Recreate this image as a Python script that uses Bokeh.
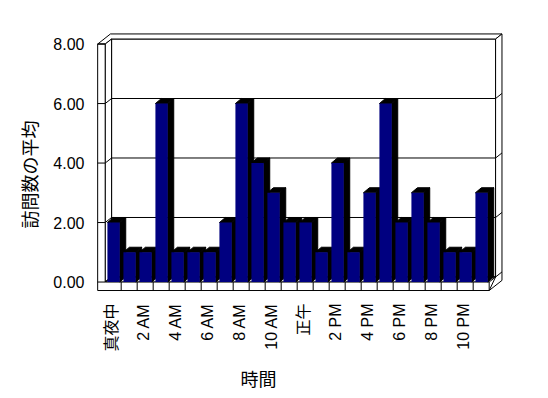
import math
from bokeh.plotting import figure
from bokeh.models import (ColumnDataSource, FixedTicker, NumeralTickFormatter,
                          Range1d, Title)
from bokeh.embed import file_html
from bokeh.resources import INLINE

# ---------------- data ----------------
hours = list(range(24))
visits = [2, 1, 1, 6, 1, 1, 1, 2, 6, 4, 3, 2, 2, 1, 4, 1, 3, 6, 2, 3, 2, 1, 1, 3]
tick_hours = [0, 2, 4, 6, 8, 10, 12, 14, 16, 18, 20, 22]
tick_labels = ["真夜中", "2 AM", "4 AM", "6 AM", "8 AM", "10 AM",
               "正午", "2 PM", "4 PM", "6 PM", "8 PM", "10 PM"]
y_ticks = [0, 2, 4, 6, 8]
y_max = 8
y_title = "訪問数の平均"
x_title = "時間"

# ---------------- style / geometry ----------------
FONT = "'Liberation Sans', 'Noto Sans CJK JP'"
TFONT = "Noto Sans CJK JP"
NAVY = "#000080"
L = -0.42          # left edge of category 0 relative to its tick
DX, DY = 0.40, 0.17  # depth offset (wall / floor)
W = 0.47           # left wall thickness
F = 0.285          # floor thickness
BL, BR = 0.14, 0.91  # bar face extent inside category
BX, BY = 0.375, 0.17  # bar depth offset
N = len(hours)

p = figure(width=540, height=398, output_backend="svg", toolbar_location=None,
           x_range=Range1d(-1.2125, 24.9125), y_range=Range1d(-0.318, 8.456),
           min_border_left=92, min_border_right=30, min_border_top=30,
           min_border_bottom=106)
p.outline_line_color = None
p.grid.visible = False
p.background_fill_color = "white"
p.border_fill_color = "white"

R = L + N  # right edge of floor front

# back wall inner face
p.quad(left=[L + DX], right=[R + DX], bottom=[DY], top=[y_max + DY],
       fill_color="white", line_color="black", line_width=1)
# top face (left wall + back wall)
p.patch([L - W, L, L + DX, R + DX, R + 2 * DX, L - W + 2 * DX],
        [y_max, y_max, y_max + DY, y_max + DY, y_max + 2 * DY, y_max + 2 * DY],
        fill_color="white", line_color="black", line_width=1)
# right face (back wall + floor)
p.patch([R + DX, R + DX, R + 2 * DX, R + 2 * DX, R],
        [DY, y_max + DY, y_max + 2 * DY, -F + 2 * DY, -F],
        fill_color="white", line_color="black", line_width=1)
# left wall inner face
p.patch([L, L, L + DX, L + DX], [0, y_max, y_max + DY, DY],
        fill_color="white", line_color="black", line_width=1)
# floor top
p.patch([L, R, R + DX, L + DX], [0, 0, DY, DY],
        fill_color="white", line_color="black", line_width=1)

# gridlines across left wall, back wall and right face
gx, gy = [], []
for v in y_ticks[:-1]:
    gx.append([L, L + DX, R + DX, R + 2 * DX])
    gy.append([v, v + DY, v + DY, v + 2 * DY])
p.multi_line(gx, gy, line_color="black", line_width=1)

# front face of left wall + floor
p.patch([L - W, R, R, L, L, L - W], [-F, -F, 0, 0, y_max, y_max],
        fill_color="white", line_color="black", line_width=1)
# axis ticks on the front face of the left wall
p.multi_line([[L - W, L] for v in y_ticks], [[v, v] for v in y_ticks],
             line_color="black", line_width=1)
# floor cells
p.multi_line([[L + k, L + k] for k in range(1, N)], [[-F, 0] for k in range(1, N)],
             line_color="black", line_width=1)

# bars: black side + cap, then navy front face
sx, sy, cx, cy = [], [], [], []
for h, v in zip(hours, visits):
    x0, x1 = h + L + BL, h + L + BR
    sx.append([x1, x1, x1 + BX, x1 + BX])
    sy.append([0, v, v + BY, BY])
    cx.append([x0, x1, x1 + BX, x0 + BX])
    cy.append([v, v, v + BY, v + BY])
p.patches(sx, sy, fill_color="black", line_color="black", line_width=1)
p.patches(cx, cy, fill_color="black", line_color="black", line_width=1)
src = ColumnDataSource(dict(left=[h + L + BL for h in hours],
                            right=[h + L + BR for h in hours],
                            top=visits, bottom=[0] * N))
p.quad(left="left", right="right", top="top", bottom="bottom", source=src,
       fill_color=NAVY, line_color=None)

# axes
p.yaxis.ticker = FixedTicker(ticks=y_ticks)
p.yaxis.formatter = NumeralTickFormatter(format="0.00")
p.yaxis.axis_line_color = None
p.yaxis.major_tick_line_color = None
p.yaxis.minor_tick_line_color = None
p.yaxis.major_tick_out = 0
p.yaxis.major_label_standoff = 8
p.yaxis.major_label_text_font = FONT
p.yaxis.major_label_text_font_size = "16px"
p.yaxis.major_label_text_color = "black"

p.xaxis.ticker = FixedTicker(ticks=tick_hours)
p.xaxis.major_label_overrides = {h: t for h, t in zip(tick_hours, tick_labels)}
p.xaxis.major_label_orientation = math.pi / 2
p.xaxis.axis_line_color = None
p.xaxis.major_tick_line_color = None
p.xaxis.minor_tick_line_color = None
p.xaxis.major_tick_out = 0
p.xaxis.major_label_standoff = 12
p.xaxis.major_label_text_font = FONT
p.xaxis.major_label_text_font_size = "16px"
p.xaxis.major_label_text_color = "black"

# titles
p.add_layout(Title(text=y_title, align="left", offset=63, standoff=17,
                   text_font=TFONT, text_font_size="18px",
                   text_font_style="normal", text_color="black"), "left")
p.add_layout(Title(text=x_title, align="left", offset=148, standoff=16,
                   text_font=TFONT, text_font_size="18px",
                   text_font_style="normal", text_color="black"), "below")

open("out.html", "w").write(file_html(p, INLINE))
